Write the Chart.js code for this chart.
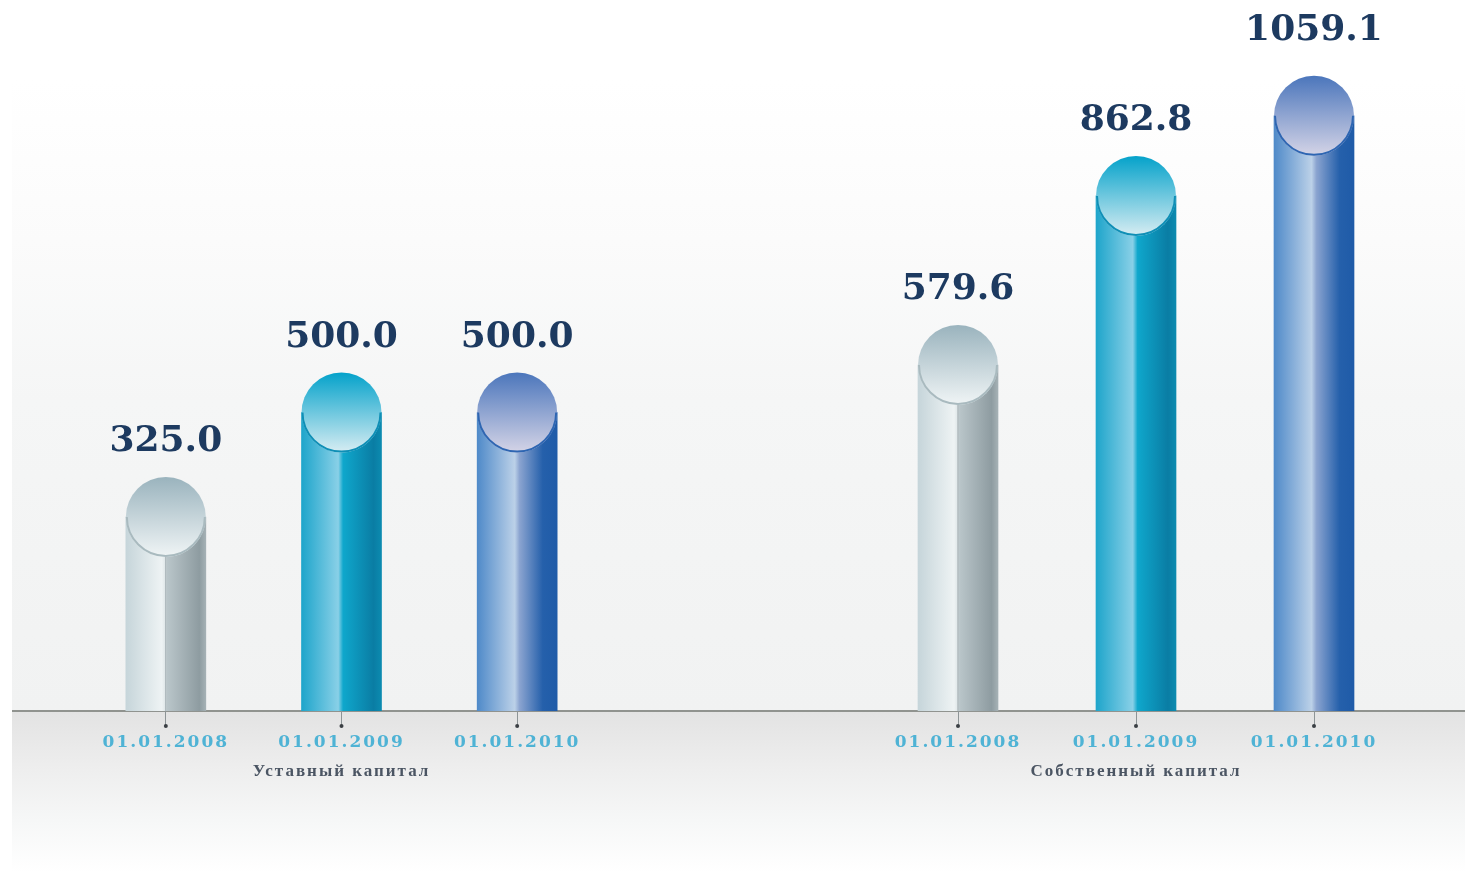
<!DOCTYPE html>
<html>
<head>
<meta charset="utf-8">
<script src="https://cdn.jsdelivr.net/npm/chart.js@4"></script>
<style>
html, body { margin: 0; padding: 0; width: 1465px; height: 879px; overflow: hidden; background: #fff; }
#fondo { position: absolute; left: 12px; top: 0; width: 1453px; height: 879px;
  background: linear-gradient(to bottom, #fff 0, #fff 80px, #fbfbfb 240px, #f5f6f6 400px, #f1f2f2 710px,
    #e3e3e3 712px, #eeeeee 770px, #f6f7f7 820px, #fff 872px); }
#linha { position: absolute; left: 12px; top: 710px; width: 1453px; height: 2px; background: #90938f; }
canvas { position: absolute; top: 0; filter: blur(0.6px); }
#grafico1 { left: 78px; }
#grafico2 { left: 869px; }
</style>
</head>
<body>
<div id="fondo"></div>
<div id="linha"></div>
<canvas id="grafico1" width="527" height="879"></canvas>
<canvas id="grafico2" width="534" height="879"></canvas>
<script>
const datas = ['01.01.2008', '01.01.2009', '01.01.2010']

const tituloEsq = 'Уставный капитал'
const valoresEsq = [325.0, 500.0, 500.0]
const rotulosEsq = ['325.0', '500.0', '500.0']

const tituloDir = 'Собственный капитал'
// the last column is drawn shorter in the picture than its label says
const valoresDir = [579.6, 862.8, 997]
const rotulosDir = ['579.6', '862.8', '1059.1']

const corpo = [
    [[0, '#c6d5da'], [0.45, '#eef3f4'], [0.5, '#dde5e7'], [0.52, '#b9c5c9'], [0.92, '#8e9ca1'], [1, '#a5b1b5']],
    [[0, '#1ea5cb'], [0.46, '#89d0e7'], [0.52, '#0fa7cc'], [0.9, '#0a7da4'], [1, '#0c8bb0']],
    [[0, '#4f8ac9'], [0.47, '#bcd1e8'], [0.53, '#8ba4d0'], [0.82, '#2560ab'], [1, '#1f5ba8']]
]
const tampa = [
    ['#9bb4be', '#eff4f5', '#a9babf'],
    ['#07a3cb', '#d5ecf2', '#0f8fb6'],
    ['#4d77bc', '#d3d3e6', '#2e66b2']
]

function corBarra(c) {
    let escala = c.chart.scales.x
    let x = escala ? escala.getPixelForValue(c.dataIndex) : NaN
    if (!Number.isFinite(x)) return corpo[c.dataIndex][0][1]
    let g = c.chart.ctx.createLinearGradient(x - 40, 0, x + 40, 0)
    corpo[c.dataIndex].forEach(p => g.addColorStop(p[0], p[1]))
    return g
}

const cilindro = {
    id: 'cilindro',
    beforeDraw(chart) {
        // axis text is spaced out in the original
        chart.ctx.letterSpacing = '2px'
    },
    afterDatasetsDraw(chart, args, opts) {
        let ctx = chart.ctx
        let base = chart.scales.y.getPixelForValue(0)
        ctx.save()
        ctx.letterSpacing = '0px'
        chart.getDatasetMeta(0).data.forEach((bar, i) => {
            // thin line down the first column
            if (i == 0) {
                ctx.strokeStyle = '#9aa6aa'
                ctx.lineWidth = 1
                ctx.beginPath()
                ctx.moveTo(bar.x, bar.y + 38)
                ctx.lineTo(bar.x, base)
                ctx.stroke()
            }
            let g = ctx.createLinearGradient(0, bar.y - 39, 0, bar.y + 39)
            g.addColorStop(0, tampa[i][0])
            g.addColorStop(1, tampa[i][1])
            ctx.fillStyle = g
            ctx.beginPath()
            ctx.arc(bar.x, bar.y, 40, 0, Math.PI * 2)
            ctx.fill()
            // darker rim on the lower edge
            ctx.strokeStyle = tampa[i][2]
            ctx.lineWidth = 2
            ctx.beginPath()
            ctx.arc(bar.x, bar.y, 39, 0, Math.PI)
            ctx.stroke()

            ctx.fillStyle = '#1d3a60'
            ctx.font = 'bold 36px "DejaVu Serif"'
            ctx.textAlign = 'center'
            ctx.textBaseline = 'middle'
            ctx.fillText(opts.rotulos[i], bar.x, bar.y - 75 - opts.subida[i])

            ctx.fillStyle = '#3a3f44'
            ctx.beginPath()
            ctx.arc(bar.x, base + 15, 2, 0, Math.PI * 2)
            ctx.fill()
        })
        ctx.restore()
    }
}

function criaGrafico(id, titulo, valores, rotulos, subida) {
    return new Chart(document.getElementById(id), {
        type: 'bar',
        data: {
            labels: datas,
            datasets: [{
                data: valores,
                backgroundColor: corBarra,
                barThickness: 80,
                borderWidth: 0
            }]
        },
        options: {
            responsive: false,
            animation: false,
            layout: { padding: 0 },
            plugins: {
                legend: { display: false },
                tooltip: { enabled: false },
                cilindro: { rotulos: rotulos, subida: subida }
            },
            scales: {
                y: { display: false, min: 0, max: 1191 },
                x: {
                    afterFit: s => { s.height = 168 },
                    border: { display: false },
                    grid: { offset: false, drawOnChartArea: false, drawTicks: true, tickLength: 15, color: '#8d9496' },
                    ticks: {
                        color: '#4fb3d5',
                        padding: 6,
                        maxRotation: 0,
                        autoSkip: false,
                        font: { family: 'DejaVu Serif', weight: 'bold', size: 17 }
                    },
                    title: {
                        display: true,
                        text: titulo,
                        color: '#4b5563',
                        padding: { top: 0, bottom: 97 },
                        font: { family: 'Liberation Serif', weight: 'bold', size: 17 }
                    }
                }
            }
        },
        plugins: [cilindro]
    })
}

criaGrafico('grafico1', tituloEsq, valoresEsq, rotulosEsq, [0, 0, 0])
criaGrafico('grafico2', tituloDir, valoresDir, rotulosDir, [0, 0, 10])
</script>
</body>
</html>
